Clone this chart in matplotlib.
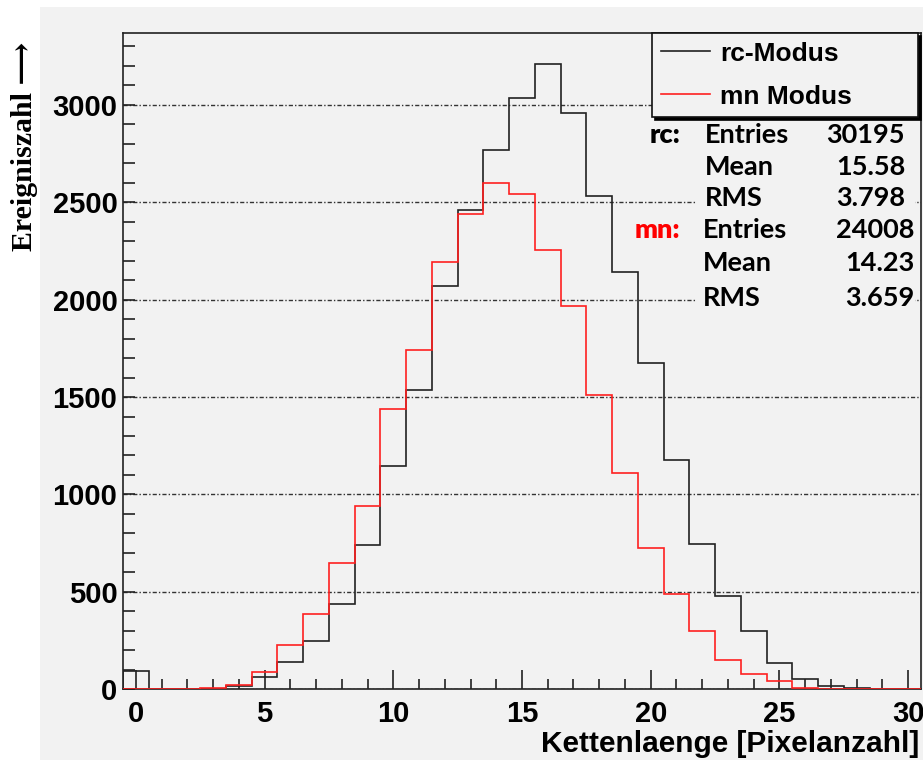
import numpy as np
import matplotlib
matplotlib.use('Agg')
from matplotlib import pyplot as plt
from matplotlib.patches import Rectangle
from matplotlib.lines import Line2D
from matplotlib.ticker import MultipleLocator

# chain length per event, bins 0..30 (width 1, centred on integers)
bin_edges = np.arange(-0.5, 31.5, 1.0)
rc_counts = [95, 0, 0, 3, 17, 61, 141, 249, 438, 739, 1148, 1536, 2071, 2458,
             2768, 3034, 3208, 2956, 2530, 2143, 1676, 1178, 745, 481, 300,
             133, 55, 17, 5, 0, 0]
mn_counts = [0, 0, 0, 5, 24, 89, 228, 386, 648, 939, 1437, 1741, 2195, 2437,
             2599, 2543, 2253, 1968, 1510, 1108, 727, 488, 300, 152, 81,
             44, 8, 3, 0, 0, 0]

legend_labels = ['rc-Modus', 'mn Modus']
stat_names = ['Entries', 'Mean', 'RMS']
rc_stats = ['30195', '15.58', '3.798']
mn_stats = ['24008', '14.23', '3.659']

bg = '#f2f2f2'
sans = ['Liberation Sans', 'DejaVu Sans']
stat_font = ['Lato', 'DejaVu Sans']
stat_size = 19.5

fig = plt.figure(figsize=(9.23, 7.6), dpi=100)
fig.patches.append(Rectangle((40 / 923, 0), 1, 1 - 7 / 760, transform=fig.transFigure,
                             facecolor=bg, edgecolor='none', zorder=-10))

ax = fig.add_axes([123 / 923, 1 - 689.3 / 760, 798 / 923, 656.3 / 760])
ax.set_facecolor(bg)

ax.stairs(rc_counts, bin_edges, color='#222222', lw=1.2, zorder=3)
ax.stairs(mn_counts, bin_edges, color='#ff2020', lw=1.2, zorder=4)

ax.set_xlim(-0.5, 30.5)
ax.set_ylim(0, max(rc_counts) * 1.05)

ax.xaxis.set_major_locator(MultipleLocator(5))
ax.xaxis.set_minor_locator(MultipleLocator(1))
ax.yaxis.set_major_locator(MultipleLocator(500))
ax.yaxis.set_minor_locator(MultipleLocator(100))
ax.tick_params(axis='both', which='both', direction='in', width=1.2, color='#222222',
               top=False, right=False)
ax.tick_params(axis='x', which='major', length=13.5, pad=8)
ax.tick_params(axis='x', which='minor', length=7)
ax.tick_params(axis='y', which='both', length=8.5, pad=4)
for lab in ax.get_xticklabels() + ax.get_yticklabels():
    lab.set_family(sans)
    lab.set_fontweight('bold')
    lab.set_fontsize(21)

ax.yaxis.grid(True, which='major', color='#333333', lw=1.0,
              linestyle=(0, (3, 1.5, 1, 1.5)), zorder=1)
for sp in ax.spines.values():
    sp.set_linewidth(1.2)
    sp.set_color('#222222')

# legend in the upper right corner, with ROOT-style solid shadow
handles = [Line2D([], [], color='#222222', lw=1.2),
           Line2D([], [], color='#ff2020', lw=1.2)]
leg = ax.legend(handles, legend_labels, loc='upper left',
                bbox_to_anchor=(0.663, 0.8705, 0.333, 0.1295), mode='expand',
                borderaxespad=0, fancybox=False, framealpha=1, facecolor=bg,
                edgecolor='#111111', shadow={'color': 'black', 'alpha': 1},
                prop={'family': sans, 'weight': 'bold', 'size': 19},
                handlelength=1.85, handletextpad=0.4, labelspacing=0.72,
                borderpad=0.33)
leg.get_frame().set_linewidth(1.2)
leg.set_zorder(6)

# statistics panel
ax.add_patch(Rectangle((0.719, 0.566), 0.273, 0.3045, transform=ax.transAxes,
                       facecolor=bg, edgecolor='none', zorder=5))
rc_rows = [0.8446, 0.7963, 0.7486]
mn_rows = [0.6999, 0.6496, 0.5963]
ax.text(0.698, rc_rows[0], 'rc:', transform=ax.transAxes, ha='right', va='center',
        family=stat_font, weight='heavy', size=stat_size, color='black', zorder=7)
ax.text(0.698, mn_rows[0], 'mn:', transform=ax.transAxes, ha='right', va='center',
        family=stat_font, weight='heavy', size=stat_size, color='#ff0000', zorder=7)
for name, val, y in zip(stat_names, rc_stats, rc_rows):
    ax.text(0.729, y, name, transform=ax.transAxes, ha='left', va='center',
            family=stat_font, weight='bold', size=stat_size, zorder=7)
    ax.text(0.980, y, val, transform=ax.transAxes, ha='right', va='center',
            family=stat_font, weight='bold', size=stat_size, zorder=7)
for name, val, y in zip(stat_names, mn_stats, mn_rows):
    ax.text(0.727, y, name, transform=ax.transAxes, ha='left', va='center',
            family=stat_font, weight='bold', size=stat_size, zorder=7)
    ax.text(0.992, y, val, transform=ax.transAxes, ha='right', va='center',
            family=stat_font, weight='bold', size=stat_size, zorder=7)

fig.text(919 / 923, 1 - 744 / 760, 'Kettenlaenge [Pixelanzahl]', ha='right',
         va='center', family=sans, weight='bold', size=21.5)
fig.text(25 / 923, 1 - 146 / 760, 'Ereigniszahl \u27f6', rotation=90, ha='center',
         va='center', family=['Liberation Serif', 'DejaVu Serif', 'DejaVu Sans'],
         weight='bold', size=21.5)

fig.savefig('out.png', dpi=100)
